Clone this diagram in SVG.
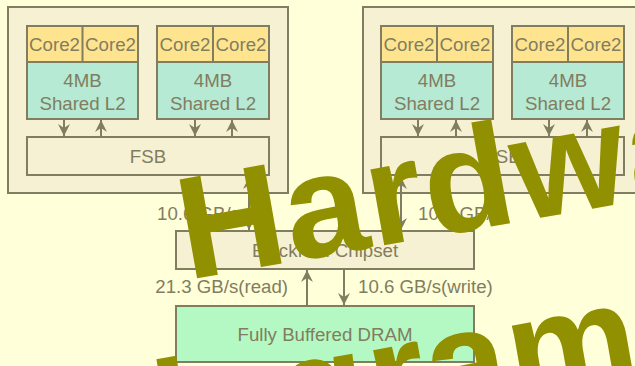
<svg xmlns="http://www.w3.org/2000/svg" width="635" height="366" viewBox="0 0 635 366">
<style>
.bg{fill:#ffffda}
.outer{fill:#f5f1d2;stroke:#817d60;stroke-width:2}
.core{fill:#ffe490;stroke:#817d60;stroke-width:2}
.l2{fill:#b6ead4;stroke:#817d60;stroke-width:2}
.bar{fill:#f5f1d2;stroke:#817d60;stroke-width:2}
.dram{fill:#b4f9c3;stroke:#817d60;stroke-width:2}
.frame{fill:none;stroke:#817d60;stroke-width:2}
.dot{stroke:#817d60;stroke-width:1.5;stroke-dasharray:1.5 2;fill:none}
.div{stroke:#817d60;stroke-width:2;fill:none}
.t{font-family:"Liberation Sans",Arial,sans-serif;font-size:18.67px;fill:#817d60}
.c{text-anchor:middle}
.ln{stroke:#817d60;stroke-width:2;fill:none}
.wm{font-family:"Liberation Sans",Arial,sans-serif;font-weight:bold;font-size:146px;letter-spacing:1.5px;fill:#909000}
</style>
<defs>
<marker id="ah" markerUnits="userSpaceOnUse" markerWidth="14" markerHeight="14" viewBox="-12 -7 14 14" refX="0" refY="0" orient="auto">
<path d="M0,0 L-12,-6 L-8,0 L-12,6 Z" fill="#817d60"/>
</marker>
</defs>
<rect class="bg" x="0" y="0" width="635" height="366"/>

<g id="cpu-left">
<rect class="outer" x="8" y="7" width="280" height="186"/>
<g id="chip-1">
<rect class="core" x="27" y="26" width="111" height="36"/>
<rect class="l2" x="27" y="62" width="111" height="57"/>
<path class="div" d="M82.5,26 V62"/>
<path class="dot" d="M28,62 H137"/>
<rect class="frame" x="27" y="26" width="111" height="93"/>
<text class="t c" x="54.5" y="51">Core2</text>
<text class="t c" x="110.5" y="51">Core2</text>
<text class="t c" x="82.5" y="87">4MB</text>
<text class="t c" x="82.5" y="110">Shared L2</text>
</g>
<g id="chip-2">
<rect class="core" x="157" y="26" width="112" height="36"/>
<rect class="l2" x="157" y="62" width="112" height="57"/>
<path class="div" d="M213,26 V62"/>
<path class="dot" d="M158,62 H268"/>
<rect class="frame" x="157" y="26" width="112" height="93"/>
<text class="t c" x="185" y="51">Core2</text>
<text class="t c" x="241" y="51">Core2</text>
<text class="t c" x="213" y="87">4MB</text>
<text class="t c" x="213" y="110">Shared L2</text>
</g>
<g id="fsb-left">
<rect class="bar" x="27" y="137" width="242" height="38"/>
<text class="t c" x="148" y="163">FSB</text>
</g>
</g>

<g id="cpu-right">
<rect class="outer" x="363" y="7" width="280" height="186"/>
<g id="chip-3">
<rect class="core" x="381" y="26" width="112" height="36"/>
<rect class="l2" x="381" y="62" width="112" height="57"/>
<path class="div" d="M437,26 V62"/>
<path class="dot" d="M382,62 H492"/>
<rect class="frame" x="381" y="26" width="112" height="93"/>
<text class="t c" x="409" y="51">Core2</text>
<text class="t c" x="465" y="51">Core2</text>
<text class="t c" x="437" y="87">4MB</text>
<text class="t c" x="437" y="110">Shared L2</text>
</g>
<g id="chip-4">
<rect class="core" x="512" y="26" width="112" height="36"/>
<rect class="l2" x="512" y="62" width="112" height="57"/>
<path class="div" d="M568,26 V62"/>
<path class="dot" d="M513,62 H623"/>
<rect class="frame" x="512" y="26" width="112" height="93"/>
<text class="t c" x="540" y="51">Core2</text>
<text class="t c" x="596" y="51">Core2</text>
<text class="t c" x="568" y="87">4MB</text>
<text class="t c" x="568" y="110">Shared L2</text>
</g>
<g id="fsb-right">
<rect class="bar" x="381" y="137" width="243" height="38"/>
<text class="t c" x="502.5" y="163">FSB</text>
</g>
</g>

<g id="chipset">
<rect class="bar" x="176" y="231" width="298" height="38"/>
<text class="t c" x="325" y="257">Blackford Chipset</text>
</g>

<g id="dram">
<rect class="dram" x="176" y="306" width="298" height="56"/>
<text class="t c" x="325" y="340.5">Fully Buffered DRAM</text>
</g>

<g id="connectors">
<path class="ln" d="M64,119 V136" marker-end="url(#ah)"/>
<path class="ln" d="M101,137 V120" marker-end="url(#ah)"/>
<path class="ln" d="M195,119 V136" marker-end="url(#ah)"/>
<path class="ln" d="M232,137 V120" marker-end="url(#ah)"/>
<path class="ln" d="M418,119 V136" marker-end="url(#ah)"/>
<path class="ln" d="M456,137 V120" marker-end="url(#ah)"/>
<path class="ln" d="M549,119 V136" marker-end="url(#ah)"/>
<path class="ln" d="M587,137 V120" marker-end="url(#ah)"/>
<path class="ln" d="M249,203 V177" marker-end="url(#ah)"/>
<path class="ln" d="M249,203 V230" marker-end="url(#ah)"/>
<path class="ln" d="M401,203 V177" marker-end="url(#ah)"/>
<path class="ln" d="M401,203 V230" marker-end="url(#ah)"/>
<path class="ln" d="M307,306 V270" marker-end="url(#ah)"/>
<path class="ln" d="M344,269 V305" marker-end="url(#ah)"/>
</g>

<g id="labels">
<text class="t" x="157" y="220">10.6 GB/s</text>
<text class="t" x="418" y="220">10.6 GB/s</text>
<text class="t" x="288" y="293" text-anchor="end">21.3 GB/s(read)</text>
<text class="t" x="358" y="293">10.6 GB/s(write)</text>
</g>

<g id="watermark">
<text class="wm" transform="translate(187.5,280) rotate(-10)">Hardware</text>
<text class="wm" transform="translate(59.4,483.7) rotate(-10)">Diagram</text>
</g>
</svg>
